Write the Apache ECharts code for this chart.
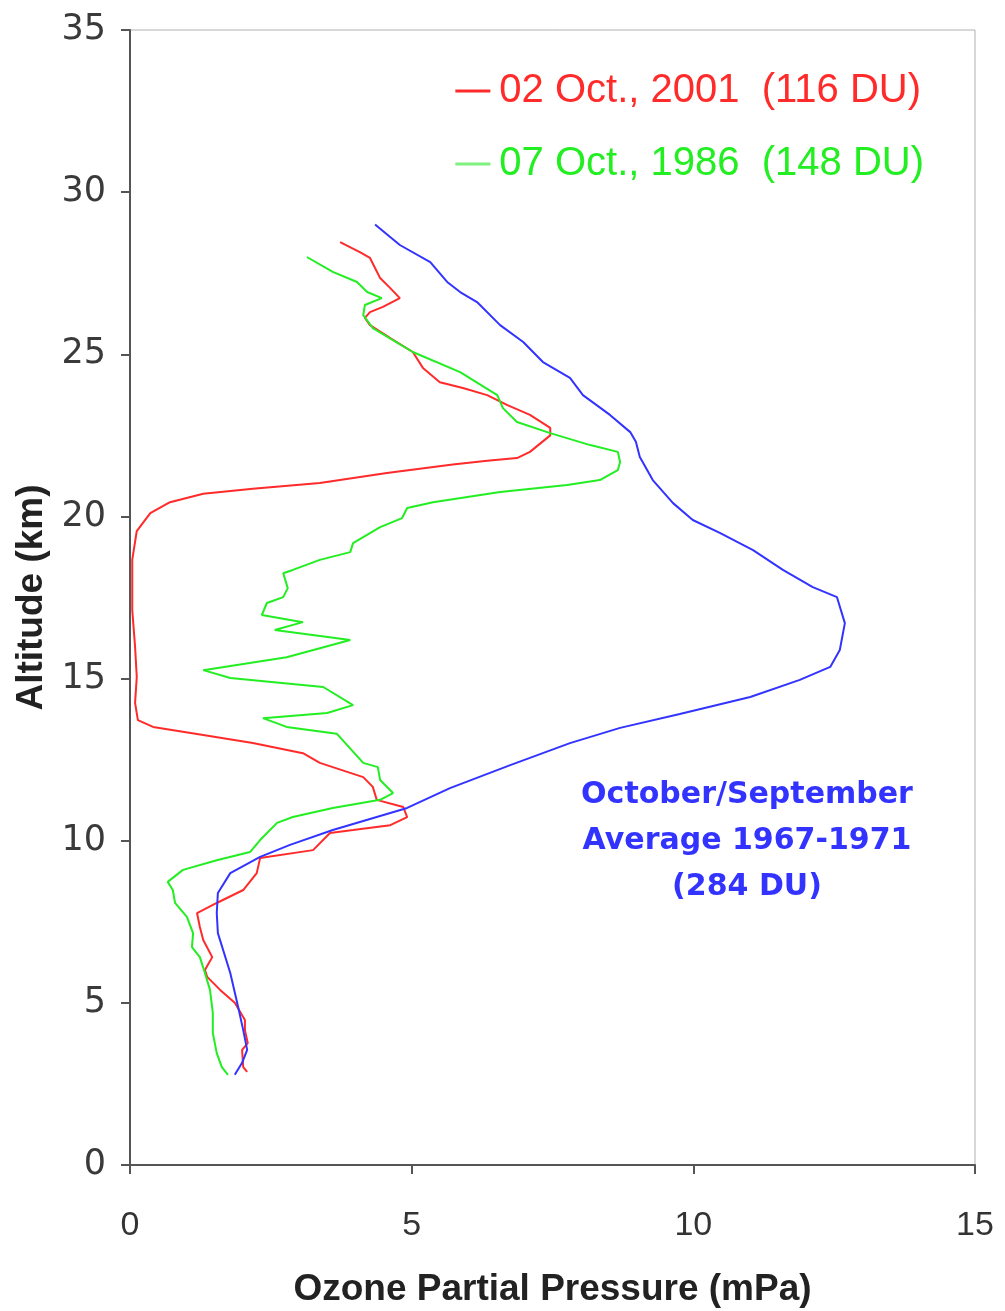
<!DOCTYPE html>
<html>
<head>
<meta charset="utf-8">
<script src="https://cdn.jsdelivr.net/npm/echarts@6/dist/echarts.min.js"></script>
<style>
html,body{margin:0;padding:0;background:#fff;}
#chart{width:1005px;height:1311px;}
</style>
</head>
<body>
<div id="chart"></div>
<script>
// Ozone partial pressure (mPa) vs altitude (km): [pressure, altitude]
const oct2001 = [[3.73,28.46],[4.08,28.15],[4.26,27.97],[4.35,27.66],[4.44,27.35],[4.62,27.04],[4.79,26.73],[4.49,26.46],[4.26,26.3],[4.17,26.12],[4.26,25.9],[4.62,25.5],[5.02,25.07],[5.2,24.58],[5.5,24.14],[5.91,23.96],[6.34,23.74],[6.7,23.43],[7.1,23.13],[7.46,22.73],[7.46,22.5],[7.1,21.99],[6.87,21.8],[6.34,21.72],[5.73,21.6],[4.56,21.34],[3.37,21.03],[2.18,20.85],[1.3,20.7],[0.71,20.44],[0.36,20.1],[0.12,19.55],[0.04,18.66],[0.04,17.11],[0.09,15.98],[0.12,15.05],[0.09,14.25],[0.14,13.72],[0.41,13.51],[1.3,13.26],[2.18,13.01],[3.07,12.7],[3.37,12.4],[4.14,11.96],[4.31,11.66],[4.38,11.26],[4.85,11.04],[4.92,10.73],[4.62,10.48],[3.96,10.33],[3.55,10.24],[3.25,9.71],[2.31,9.47],[2.25,9.0],[2.01,8.48],[1.54,8.08],[1.19,7.77],[1.24,7.34],[1.3,6.94],[1.46,6.41],[1.33,6.01],[1.37,5.8],[1.6,5.4],[1.86,5.0],[2.04,4.47],[2.04,4.16],[2.09,3.76],[1.99,3.55],[2.01,3.02],[2.08,2.87]];
const oct1986 = [[3.14,28.0],[3.6,27.54],[4.03,27.23],[4.21,26.92],[4.47,26.73],[4.17,26.52],[4.14,26.21],[4.31,25.81],[5.02,25.07],[5.86,24.45],[6.52,23.74],[6.62,23.34],[6.87,22.91],[7.46,22.57],[8.17,22.2],[8.66,21.99],[8.7,21.68],[8.66,21.43],[8.34,21.12],[7.76,20.97],[6.57,20.75],[5.38,20.44],[4.92,20.26],[4.83,19.95],[4.44,19.67],[3.96,19.18],[3.91,18.9],[3.37,18.66],[2.89,18.35],[2.72,18.25],[2.8,17.79],[2.72,17.51],[2.43,17.33],[2.34,16.96],[3.07,16.74],[2.57,16.5],[3.91,16.19],[2.78,15.66],[1.3,15.26],[1.78,15.02],[3.43,14.74],[3.96,14.18],[3.5,13.94],[2.36,13.78],[2.78,13.51],[3.67,13.3],[4.14,12.4],[4.4,12.27],[4.44,11.87],[4.67,11.47],[4.44,11.26],[3.6,11.01],[2.89,10.73],[2.61,10.55],[2.31,10.02],[2.13,9.65],[1.54,9.4],[0.94,9.1],[0.67,8.73],[0.76,8.48],[0.8,8.08],[1.01,7.65],[1.12,7.15],[1.1,6.72],[1.24,6.41],[1.33,5.92],[1.42,5.4],[1.47,4.69],[1.47,4.07],[1.54,3.45],[1.63,3.02],[1.74,2.78]];
const avg1967_1971 = [[4.35,29.0],[4.79,28.37],[5.33,27.84],[5.63,27.23],[5.86,26.92],[6.16,26.61],[6.57,25.9],[6.98,25.38],[7.33,24.76],[7.81,24.27],[8.04,23.74],[8.52,23.13],[8.88,22.6],[8.98,22.3],[9.05,21.83],[9.28,21.12],[9.64,20.41],[9.99,19.89],[10.47,19.49],[11.06,18.96],[11.59,18.35],[12.12,17.82],[12.55,17.51],[12.69,16.71],[12.6,15.88],[12.43,15.36],[11.89,14.96],[11.01,14.43],[9.76,13.91],[8.7,13.48],[7.81,13.01],[6.75,12.33],[5.68,11.62],[4.92,11.01],[3.6,10.33],[2.84,9.87],[2.31,9.5],[1.78,9.0],[1.56,8.39],[1.54,7.77],[1.56,7.15],[1.78,5.92],[1.92,4.87],[2.01,4.16],[2.08,3.55],[1.99,3.15],[1.86,2.78]];
const seriesNames = ['02 Oct., 2001  (116 DU)', '07 Oct., 1986  (148 DU)', 'October/September Average 1967-1971 (284 DU)'];
const annotationLines = ['October/September', 'Average 1967-1971', '(284 DU)'];
const xTicks = [0, 5, 10, 15];
const yTicks = [0, 5, 10, 15, 20, 25, 30, 35];

const chart = echarts.init(document.getElementById('chart'));
const red = '#ff2a2a', green = '#22ee22', blue = '#3333ff';
chart.setOption({
  animation: false,
  backgroundColor: '#fff',
  grid: {left: 130, right: 30, top: 30, bottom: 146, containLabel: false, outerBoundsMode: 'none',
         show: true, borderColor: '#b0b0b0', borderWidth: 1},
  xAxis: {
    type: 'value', min: xTicks[0], max: xTicks[xTicks.length-1], interval: 5,
    name: 'Ozone Partial Pressure (mPa)', nameLocation: 'middle', nameGap: 106,
    nameTextStyle: {fontFamily: 'Liberation Sans', fontWeight: 'bold', fontSize: 37, color: '#222'},
    axisLine: {show: true, lineStyle: {color: '#555', width: 2}},
    axisTick: {show: true, length: 9, lineStyle: {color: '#555', width: 2}},
    axisLabel: {margin: 44, fontFamily: "'Liberation Sans Narrow','Arial Narrow','Liberation Sans'", fontSize: 34, color: '#333'},
    splitLine: {show: false}
  },
  yAxis: {
    type: 'value', min: yTicks[0], max: yTicks[yTicks.length-1], interval: 5,
    name: 'Altitude (km)', nameLocation: 'middle', nameGap: 74,
    nameTextStyle: {fontFamily: 'Liberation Sans', fontWeight: 'bold', fontSize: 37, color: '#222'},
    axisLine: {show: true, lineStyle: {color: '#555', width: 2}},
    axisTick: {show: true, length: 9, lineStyle: {color: '#555', width: 2}},
    axisLabel: {margin: 24, fontFamily: 'DejaVu Sans', fontSize: 35, color: '#3a3a3a'},
    splitLine: {show: false}
  },
  legend: {
    orient: 'vertical', right: 76, top: 66, itemGap: 33,
    itemWidth: 35, itemHeight: 3, icon: 'rect',
    data: [
      {name: seriesNames[0], textStyle: {color: red}},
      {name: seriesNames[1], textStyle: {color: green}, itemStyle: {color: '#7df07d'}}
    ],
    textStyle: {fontFamily: 'Liberation Sans', fontSize: 40, padding: [0,0,0,4]}
  },
  graphic: [{
    type: 'text', x: 747, y: 772,
    style: {
      text: annotationLines.join('\n'), fill: blue, font: 'bold 30px "DejaVu Sans"',
      align: 'center', textAlign: 'center', lineHeight: 46
    }
  }],
  series: [
    {name: seriesNames[0], type: 'line', data: oct2001, showSymbol: false, lineStyle: {color: red, width: 2}, itemStyle: {color: red}},
    {name: seriesNames[1], type: 'line', data: oct1986, showSymbol: false, lineStyle: {color: green, width: 2}, itemStyle: {color: green}},
    {name: seriesNames[2], type: 'line', data: avg1967_1971, showSymbol: false, lineStyle: {color: blue, width: 2}, itemStyle: {color: blue}}
  ]
});
</script>
</body>
</html>
